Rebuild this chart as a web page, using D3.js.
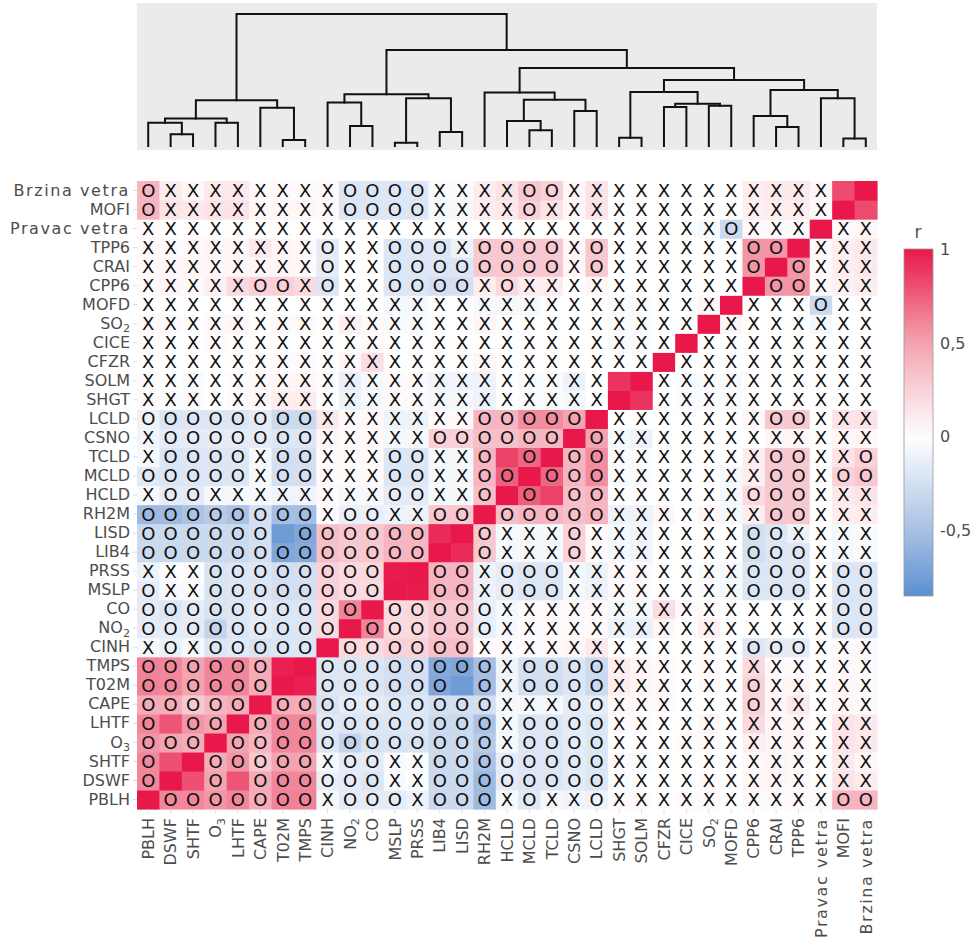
<!DOCTYPE html>
<html><head><meta charset="utf-8">
<script src="https://cdn.jsdelivr.net/npm/d3@7"></script>
<style>body{margin:0;background:#fff}svg{display:block}</style>
</head><body>
<script>
// ---------------- DATA ----------------
const variables = ["PBLH","DSWF","SHTF","O3","LHTF","CAPE","T02M","TMPS","CINH","NO2","CO","MSLP","PRSS","LIB4","LISD","RH2M","HCLD","MCLD","TCLD","CSNO","LCLD","SHGT","SOLM","CFZR","CICE","SO2","MOFD","CPP6","CRAI","TPP6","Pravac vetra","MOFI","Brzina vetra"];

// lower triangle of the correlation matrix: corrLower[i][j] for j < i
const corrLower = [
 [],
 [0.6],
 [0.6,0.8],
 [0.55,0.5,0.45],
 [0.6,0.78,0.55,0.5],
 [0.45,0.45,0.3,0.4,0.45],
 [0.62,0.6,0.5,0.6,0.6,0.45],
 [0.62,0.6,0.5,0.6,0.6,0.45,0.97],
 [-0.05,-0.12,-0.05,-0.2,-0.18,-0.22,-0.2,-0.2],
 [-0.15,-0.15,-0.15,-0.35,-0.2,-0.15,-0.2,-0.2,0.2],
 [-0.15,-0.2,-0.15,-0.22,-0.2,-0.15,-0.2,-0.2,0.2,0.62],
 [-0.15,-0.04,-0.04,-0.22,-0.2,-0.2,-0.25,-0.25,0.25,0.2,0.2],
 [-0.1,-0.02,-0.02,-0.22,-0.2,-0.2,-0.25,-0.25,0.25,0.2,0.22,0.99],
 [-0.3,-0.3,-0.3,-0.3,-0.3,-0.25,-0.68,-0.66,0.35,0.3,0.3,0.4,0.4],
 [-0.3,-0.3,-0.3,-0.3,-0.3,-0.25,-0.76,-0.68,0.35,0.3,0.3,0.4,0.4,0.93],
 [-0.55,-0.55,-0.48,-0.42,-0.48,-0.25,-0.52,-0.52,0.02,-0.12,-0.12,-0.1,-0.1,0.3,0.3],
 [-0.05,-0.15,-0.15,-0.05,-0.05,-0.05,-0.08,-0.08,0.02,-0.05,-0.05,-0.15,-0.15,-0.05,-0.05,0.35],
 [-0.18,-0.2,-0.2,-0.2,-0.2,-0.05,-0.25,-0.25,0.02,0.02,0.02,-0.2,-0.2,-0.05,-0.05,0.4,0.75],
 [-0.05,-0.2,-0.2,-0.2,-0.2,-0.05,-0.25,-0.25,0.02,0.02,0.02,-0.2,-0.2,-0.05,-0.05,0.4,0.85,0.72],
 [-0.08,-0.15,-0.15,-0.15,-0.15,-0.15,-0.2,-0.2,0.05,0.03,0.03,-0.05,-0.05,0.25,0.25,0.35,0.35,0.4,0.4],
 [-0.1,-0.2,-0.2,-0.2,-0.2,-0.15,-0.3,-0.3,0.12,0.03,0.03,-0.1,-0.1,0.02,0.02,0.4,0.4,0.58,0.58,0.5],
 [0.03,-0.03,0.03,0,0.03,0.05,0.1,0.1,0,-0.1,-0.05, 0.03,0.03,-0.05,-0.05,-0.1,0,-0.03,-0.03,-0.05,0],
 [0.02,0,-0.03,0,0.02,0.03,0.05,0.05,-0.02,-0.12,-0.05, 0.03,0.03,-0.08,-0.08,-0.1,0,-0.03,-0.03,-0.1,0,0.9],
 [0,0,0,0,0,0.02,0.02,0.02,0,0.05,0.18, 0,0,0,0,0.05,0,0,0,0,0,0, 0],
 [0.02,0,0,0.02,0,0,0,0,0,0,0.03, 0,0,0,0,0,0,0,0,0,0,-0.03, -0.03,0],
 [0.03,0.02,0,0.03,0.05,0,0.03,0.03,0,0.08,0.03, -0.03,-0.03,0,0,0.05,0,0,0,0,0,-0.03, -0.03,0,0],
 [0,0,0,0,0,0,0,0,0,0,0, -0.05,-0.05,0,0,-0.05,-0.05,-0.05,0,0,0,-0.03, -0.03,0,0,0.05],
 [0.03,0.05,0.03,0.08,0.2,0.25,0.25,0.2,-0.2,0,0, -0.2,-0.2,-0.25,-0.25,0.1,0.2,0.1,0.1,0,0.05,0, 0,0,0,0,0],
 [0.03,0.05,0.05,0.05,0.05,0.05,0.05,0.03,-0.15,0,0, -0.2,-0.2,-0.2,-0.2,0.3,0.3,0.3,0.3,0.05,0.3,0, 0,0,0,0,0, 0.55],
 [0.03,0.03,0.03,0.05,0.05,0.12,0.05,0.03,-0.15,0,0, -0.2,-0.2,-0.2,-0.1,0.3,0.3,0.3,0.3,0.05,0.3,0, 0,0,0,0,0, 0.55,0.55],
 [0.03,0,0,0,0,0,0,0,0,0,0, 0,0,0,0,0,0,0,0,0,0,0, 0,0,0,-0.05,-0.3,0.03,0.03,0.03],
 [0.4,0.15,0.12,0.15,0.15,0.05,0.05,0.05,0.03,-0.2,-0.2, -0.2,-0.2,-0.05,-0.05,0.1,0.12,0.25,0.15,0.05,0.15,0, 0,0,0,0,0,0.08,0.1,0.1,0.03],
 [0.4,0.1,0.05,0.12,0.12,0.03,0.03,0.03,0.03,-0.2,-0.2, -0.2,-0.2,-0.03,-0.03,0.1,0.15,0.3,0.25,0.05,0.15,0, 0,0,0,0,0,0.1,0.12,0.12,0.05,0.82]
];

// significance marks for the same lower triangle ("O", "X", "-" = no mark)
const marksLower = [
 "",
 "O",
 "O-",
 "OOO",
 "O-OO",
 "OOOOO",
 "OOOOOO",
 "OOOOOO-",
 "XOXOOOOO",
 "OOOOOOOOO",
 "OOOOOOOOOO",
 "OXXOOOOOOOO",
 "XXXOOOOOOOO-",
 "OOOOOOOOOOOOO",
 "OOOOOO-OOOOOO-",
 "OOOOOOOOXOOXXOO",
 "XOOXXXXXXXXOOXXO",
 "OOOOOXOOXXXOOXXOO",
 "XOOOOXOOXXXOOXXO-O",
 "XOOOOOOOXXXXXOOOOOO",
 "OOOOOOOOXXXXXXXOOOOO",
 "XXXXXXXXXXX"+"XXXXXXXXXX",
 "XXXXXXXXXXX"+"XXXXXXXXXX"+"-",
 "XXXXXXXXXXX"+"XXXXXXXXXXX"+"X",
 "XXXXXXXXXXX"+"XXXXXXXXXXX"+"XX",
 "XXXXXXXXXXX"+"XXXXXXXXXXX"+"XXX",
 "XXXXXXXXXXX"+"XXXXXXXXXXX"+"XXXX",
 "XXXXXOOXOXX"+"OOOOXOXXXXX"+"XXXXX",
 "XXXXXXXXOXX"+"OOOOOOOOXOX"+"XXXXX"+"O",
 "XXXXXXXXOXX"+"OOOXOOOOXOX"+"XXXXX"+"OO",
 "XXXXXXXXXXX"+"XXXXXXXXXXX"+"XXXX"+"O"+"XXX",
 "OXXXXXXXXOO"+"OOXXXXOXXXX"+"XXXXXXXXX",
 "OXXXXXXXXOO"+"OOXXXXOOXXX"+"XXXXXXXXX"+"-"
];

// dendrogram: [mergeHeight, left, right], leaves are variable indices
const dendroTree = [1.0,
  [0.347, [0.208, [0.177, 0, [0.089, 1, 2]], [0.177, 3, 4]], [0.29, 5, [0.046, 6, 7]]],
  [0.727,
    [0.392, [0.33, 8, [0.152, 9, 10]], [0.362, [0.025, 11, 12], [0.106, 13, 14]]],
    [0.59,
      [0.405, 15, [0.35, [0.19, 16, [0.12, 17, 18]], [0.266, 19, 20]]],
      [0.50,
        [0.41, [0.063, 21, 22], [0.32, [0.296, 23, 24], [0.304, 25, 26]]],
        [0.425, [0.228, 27, [0.144, 28, 29]], [0.362, 30, [0.056, 31, 32]]]
      ]
    ]
  ]
];

const colorTicks = [1, 0.5, 0, -0.5];
const colorTickLabels = ["1", "0,5", "0", "-0,5"];
const colorDomain = [-0.85, -0.5, 0, 0.5, 1];
const colorRange = ["#5b8fd1", "#a9c1e4", "#ffffff", "#f4a3b0", "#e8184b"];

// ---------------- CHART ----------------
const W = 979, H = 945;
const n = variables.length;
const FONT = "DejaVu Sans, Verdana, sans-serif";
const svg = d3.select("body").append("svg").attr("width", W).attr("height", H);

const color = d3.scaleLinear().domain(colorDomain).range(colorRange).clamp(true);

function corr(i, j) {
  if (i === j) return 1;
  return i > j ? corrLower[i][j] : corrLower[j][i];
}
function mark(i, j) {
  if (i === j) return "";
  const m = i > j ? marksLower[i][j] : marksLower[j][i];
  return m === "-" ? "" : m;
}

const x = d3.scaleBand().domain(d3.range(n)).range([137, 877]);
const y = d3.scaleBand().domain(d3.range(n - 1, -1, -1)).range([181, 809]);

const cells = [];
for (let i = 0; i < n; i++) for (let j = 0; j < n; j++) cells.push({i, j, v: corr(i, j), m: mark(i, j)});

const g = svg.append("g");
g.selectAll("rect.cell").data(cells).join("rect")
  .attr("class", "cell")
  .attr("x", d => x(d.j)).attr("y", d => y(d.i))
  .attr("width", x.bandwidth() + 0.6).attr("height", y.bandwidth() + 0.6)
  .attr("fill", d => color(d.v));

g.selectAll("text.mk").data(cells.filter(d => d.m)).join("text")
  .attr("class", "mk")
  .attr("x", d => x(d.j) + x.bandwidth() / 2)
  .attr("y", d => y(d.i) + y.bandwidth() / 2)
  .attr("dy", "0.36em")
  .attr("text-anchor", "middle")
  .attr("font-family", FONT)
  .attr("font-size", 18)
  .attr("fill", "#111")
  .text(d => d.m);

// label with subscripts
function setLabel(sel) {
  sel.each(function(d) {
    const name = variables[d];
    const t = d3.select(this);
    t.text(null);
    const m = name.match(/^(SO|NO|O)(\d)$/);
    if (m) {
      t.append("tspan").text(m[1]);
      t.append("tspan").attr("font-size", "0.7em").attr("dy", "0.3em").text(m[2]);
    } else t.text(name);
    if (/[a-z]/.test(name)) t.attr("letter-spacing", 1.6);
  });
}

// y axis
const yAxis = svg.append("g").attr("transform", "translate(137,0)")
  .call(d3.axisLeft(y).tickSize(4).tickPadding(3));
yAxis.select(".domain").remove();
yAxis.selectAll(".tick line").attr("stroke", "#ddd");
yAxis.selectAll(".tick text")
  .attr("font-family", FONT)
  .attr("font-size", 16).attr("fill", "#4d4d4d")
  .call(setLabel);

// x axis
const xAxis = svg.append("g").attr("transform", "translate(0,809)")
  .call(d3.axisBottom(x).tickSize(4).tickPadding(3));
xAxis.select(".domain").remove();
xAxis.selectAll(".tick line").attr("stroke", "#ddd");
xAxis.selectAll(".tick text")
  .attr("font-family", FONT)
  .attr("font-size", 16).attr("fill", "#4d4d4d")
  .attr("transform", "rotate(-90)")
  .attr("x", -9).attr("y", 0).attr("dy", "0.36em")
  .attr("text-anchor", "end")
  .call(setLabel);

// dendrogram
svg.append("rect").attr("x", 137).attr("y", 3).attr("width", 740).attr("height", 147).attr("fill", "#ebebeb");
const dy = d3.scaleLinear().domain([0, 1]).range([146, 14]);
const dg = svg.append("g").attr("fill", "none").attr("stroke", "#111").attr("stroke-width", 2).attr("stroke-linecap", "square");
function drawNode(node) {
  if (typeof node === "number") return {cx: x(node) + x.bandwidth() / 2, h: 0};
  const [h, l, r] = node;
  const a = drawNode(l), b = drawNode(r);
  const path = d3.path();
  path.moveTo(a.cx, dy(a.h)); path.lineTo(a.cx, dy(h)); path.lineTo(b.cx, dy(h)); path.lineTo(b.cx, dy(b.h));
  dg.append("path").attr("d", path.toString());
  return {cx: (a.cx + b.cx) / 2, h};
}
drawNode(dendroTree);

// colorbar
const cb = d3.scaleLinear().domain([-0.85, 1]).range([596, 249]);
const grad = svg.append("defs").append("linearGradient").attr("id", "cbg")
  .attr("x1", 0).attr("y1", 1).attr("x2", 0).attr("y2", 0);
d3.range(0, 1.0001, 0.05).forEach(t => {
  const v = -0.85 + t * 1.85;
  grad.append("stop").attr("offset", t).attr("stop-color", color(v));
});
svg.append("rect").attr("x", 904).attr("y", 249).attr("width", 29).attr("height", 347)
  .attr("fill", "url(#cbg)").attr("stroke", "#999").attr("stroke-width", 0.8);
svg.selectAll("text.cbt").data(colorTicks).join("text")
  .attr("class", "cbt")
  .attr("x", 940).attr("y", d => cb(d)).attr("dy", "0.36em")
  .attr("font-family", FONT).attr("font-size", 16).attr("fill", "#4d4d4d")
  .text((d, k) => colorTickLabels[k]);
svg.append("text").attr("x", 918).attr("y", 238).attr("text-anchor", "middle")
  .attr("font-family", FONT).attr("font-size", 17).attr("fill", "#4d4d4d").text("r");
</script>
</body></html>
